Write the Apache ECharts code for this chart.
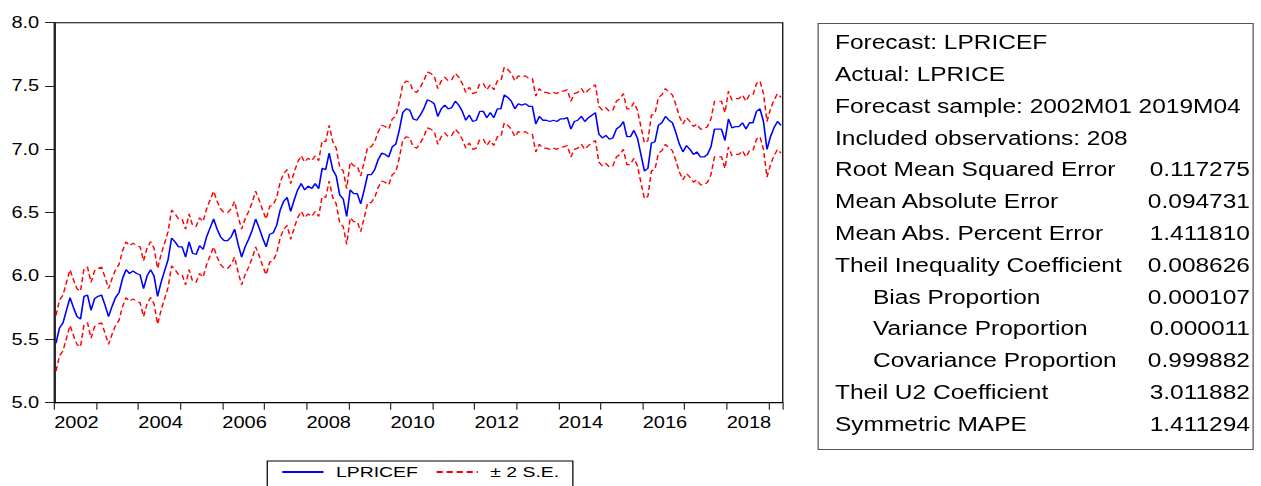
<!DOCTYPE html>
<html>
<head>
<meta charset="utf-8">
<script src="https://cdn.jsdelivr.net/npm/echarts@6/dist/echarts.min.js"></script>
<style>
  html, body { margin: 0; padding: 0; background: #fff; overflow: hidden; }
  /* the EViews export is stretched sideways, so lay out at 1/1.25 width and stretch */
  #page { position: absolute; left: 0; top: 0; width: 1008.8px; height: 486px;
    transform: scaleX(1.25); transform-origin: 0 0;
    font-family: 'Liberation Sans', Arial, sans-serif; }
  #chart { position: absolute; left: 0; top: 0; width: 640px; height: 486px; }
  #stats { position: absolute; left: 654.4px; top: 23px; width: 349px; height: 427px;
    border: 1px solid #555; box-sizing: border-box; padding-top: 3.2px; }
  .row { position: relative; height: 31.8px; line-height: 31.8px; font-size: 19.6px;
    color: #000; white-space: nowrap; }
  .row .lab { position: absolute; left: 12.6px; }
  .row.sub .lab { left: 43px; }
  .row .val { position: absolute; right: 2.4px; }
</style>
</head>
<body>
<div id="page">
  <div id="chart"></div>
  <div id="stats"></div>
</div>
<script>
// forecast LPRICEF, 2002M01 .. 2019M04 (one line per year)
const lpricef = [
  5.47, 5.59, 5.63, 5.73, 5.83, 5.75, 5.68, 5.66, 5.84, 5.85, 5.73, 5.82, // 2002
  5.84, 5.85, 5.77, 5.68, 5.76, 5.83, 5.87, 5.98, 6.05, 6.02, 6.04, 6.02, // 2003
  6.01, 5.90, 6.00, 6.05, 6.00, 5.84, 5.95, 6.04, 6.13, 6.30, 6.27, 6.23, // 2004
  6.23, 6.15, 6.27, 6.18, 6.17, 6.24, 6.21, 6.31, 6.38, 6.45, 6.37, 6.31, // 2005
  6.28, 6.28, 6.31, 6.37, 6.25, 6.15, 6.23, 6.29, 6.36, 6.45, 6.38, 6.30, // 2006
  6.23, 6.33, 6.34, 6.40, 6.52, 6.59, 6.62, 6.51, 6.60, 6.68, 6.73, 6.68, // 2007
  6.71, 6.69, 6.73, 6.69, 6.85, 6.84, 6.97, 6.84, 6.79, 6.64, 6.61, 6.47, // 2008
  6.68, 6.65, 6.65, 6.57, 6.68, 6.80, 6.80, 6.84, 6.92, 6.97, 6.96, 6.94, // 2009
  7.02, 7.04, 7.15, 7.29, 7.32, 7.31, 7.24, 7.23, 7.27, 7.32, 7.39, 7.38, // 2010
  7.36, 7.26, 7.32, 7.35, 7.32, 7.33, 7.38, 7.35, 7.30, 7.23, 7.27, 7.22, // 2011
  7.23, 7.30, 7.30, 7.25, 7.29, 7.25, 7.32, 7.32, 7.43, 7.41, 7.38, 7.32, // 2012
  7.36, 7.35, 7.36, 7.34, 7.34, 7.20, 7.26, 7.23, 7.23, 7.22, 7.23, 7.22, // 2013
  7.24, 7.24, 7.25, 7.16, 7.22, 7.23, 7.26, 7.22, 7.25, 7.27, 7.29, 7.12, // 2014
  7.09, 7.11, 7.08, 7.09, 7.16, 7.18, 7.22, 7.10, 7.10, 7.15, 7.09, 6.96, // 2015
  6.83, 6.85, 7.05, 7.06, 7.19, 7.21, 7.26, 7.23, 7.21, 7.13, 7.04, 6.98, // 2016
  7.03, 7.00, 6.96, 6.98, 6.94, 6.94, 6.96, 7.02, 7.16, 7.16, 7.16, 7.07, // 2017
  7.24, 7.17, 7.18, 7.18, 7.21, 7.16, 7.21, 7.21, 7.30, 7.32, 7.22, 7.00, // 2018
  7.10, 7.17, 7.22, 7.19                                                  // 2019
];
const se = 0.11;  // forecast standard error (static forecast, about constant)

const startYear = 2002;
const yearLabels = ['2002', '2004', '2006', '2008', '2010', '2012', '2014', '2016', '2018'];

const statLabels = [
  'Forecast: LPRICEF', 'Actual: LPRICE', 'Forecast sample: 2002M01 2019M04',
  'Included observations: 208', 'Root Mean Squared Error', 'Mean Absolute Error',
  'Mean Abs. Percent Error', 'Theil Inequality Coefficient', 'Bias Proportion',
  'Variance Proportion', 'Covariance Proportion', 'Theil U2 Coefficient', 'Symmetric MAPE'
];
const statValues = ['', '', '', '', '0.117275', '0.094731', '1.411810', '0.008626',
  '0.000107', '0.000011', '0.999882', '3.011882', '1.411294'];
const statIndent = [0, 0, 0, 0, 0, 0, 0, 0, 1, 1, 1, 0, 0];

// stats box
const box = document.getElementById('stats');
statLabels.forEach((lab, i) => {
  const r = document.createElement('div');
  r.className = 'row' + (statIndent[i] ? ' sub' : '');
  r.innerHTML = '<span class="lab"></span><span class="val"></span>';
  r.children[0].textContent = lab;
  r.children[1].textContent = statValues[i];
  box.appendChild(r);
});

const months = lpricef.map((_, i) => {
  const y = startYear + Math.floor(i / 12), m = i % 12 + 1;
  return y + 'M' + (m < 10 ? '0' + m : m);
});
const upper = lpricef.map(v => +(v + 2 * se).toFixed(3));
const lower = lpricef.map(v => +(v - 2 * se).toFixed(3));

const chart = echarts.init(document.getElementById('chart'), null, { renderer: 'svg' });

const option = {
  animation: false,
  backgroundColor: '#fff',
  textStyle: { fontFamily: "'Liberation Sans', Arial, sans-serif" },
  grid: { left: 43.4, top: 22.7, width: 582.8, height: 380, show: true,
    borderColor: '#000', borderWidth: 1, backgroundColor: '#fff' },
  legend: {
    left: 213.8, top: 461, itemWidth: 33, itemHeight: 14, itemGap: 14,
    padding: [3, 11, 20, 11], borderColor: '#000', borderWidth: 1,
    itemStyle: { opacity: 0 },   // hide the marker, keep the bare line
    textStyle: { fontSize: 15.5, color: '#000', padding: [0, 0, 0, 5] },
    data: ['LPRICEF', '± 2 S.E.']
  },
  xAxis: [
    { // quarterly ticks
      type: 'category', data: months, boundaryGap: true,
      axisLine: { lineStyle: { color: '#000', width: 1 } },
      axisTick: { interval: 2, length: 4, lineStyle: { color: '#333' } },
      axisLabel: { show: false }, splitLine: { show: false }
    },
    { // yearly ticks + labels
      type: 'value', min: 0, max: months.length, interval: 12, position: 'bottom',
      axisLine: { show: false },
      axisTick: { length: 7, lineStyle: { color: '#333' } },
      axisLabel: {
        formatter: v => (v % 24 === 0 && yearLabels[v / 24]) ? yearLabels[v / 24] : '',
        align: 'left', margin: 12, fontSize: 16, color: '#000'
      },
      splitLine: { show: false }
    }
  ],
  yAxis: {
    type: 'value', min: 5, max: 8, interval: 0.5,
    axisLine: { show: true, lineStyle: { color: '#222', width: 1.5 } },
    axisTick: { show: true, length: 7.4, lineStyle: { color: '#222' } },
    axisLabel: { formatter: v => v.toFixed(1), fontSize: 16, margin: 12, color: '#000',
      padding: [0, 0, 4, 0] },
    splitLine: { show: false }
  },
  series: [
    { name: 'LPRICEF', type: 'line', data: lpricef, symbol: 'none',
      lineStyle: { color: '#0000ff', width: 1.3 }, itemStyle: { color: '#0000ff' } },
    { name: '± 2 S.E.', type: 'line', data: upper, symbol: 'none',
      lineStyle: { color: '#ff0000', width: 1.2, type: [5, 3] }, itemStyle: { color: '#ff0000' } },
    { name: '± 2 S.E.', type: 'line', data: lower, symbol: 'none',
      lineStyle: { color: '#ff0000', width: 1.2, type: [5, 3] }, itemStyle: { color: '#ff0000' } }
  ]
};
chart.setOption(option);
</script>
</body>
</html>
